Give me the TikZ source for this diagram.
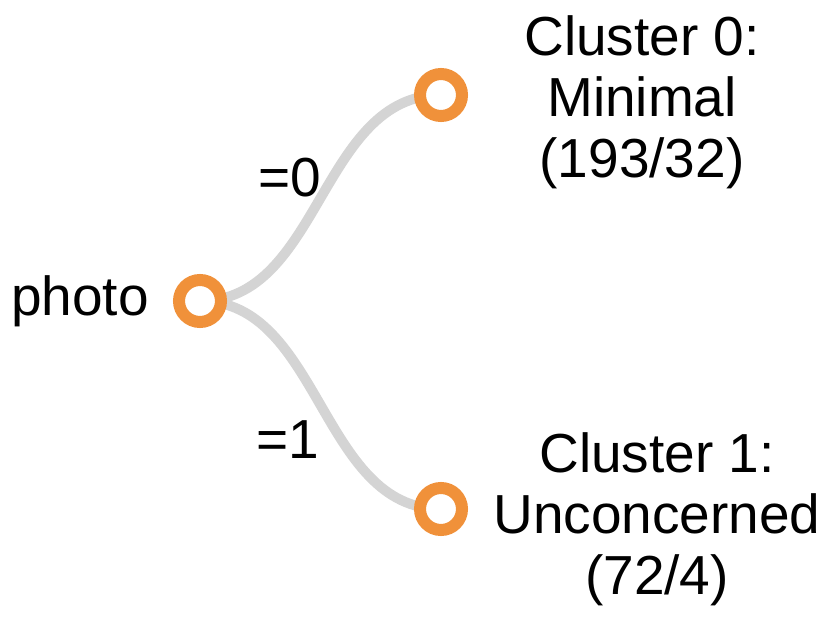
\documentclass[tikz,border=0pt]{standalone}
\usepackage{fontspec}
\setmainfont{Liberation Sans}
\usetikzlibrary{calc,positioning,backgrounds}
\definecolor{leaforange}{HTML}{F0913A}
\definecolor{branchgray}{HTML}{D4D4D4}
\tikzset{leaf/.style={circle, draw=leaforange, line width=12pt, fill=white, minimum size=42pt, inner sep=0pt},
  branch/.style={draw=branchgray, line width=10pt, line cap=round},
  lbl/.style={font=\fontsize{55}{61}\selectfont, align=center, inner sep=0pt}}

\begin{document}
\begin{tikzpicture}[x=1pt,y=-1pt]
    \useasboundingbox (0,0) rectangle (838,620);
    \node[leaf] (R) at (200,301) {};
    \node[leaf] (L0) at (441,95) {};
    \node[leaf] (L1) at (441,509) {};
    \coordinate (M) at ($(R)!0.5!(L0)$);
    \begin{pgfonlayer}{background}
    \draw[branch] (R.center) .. controls (R.center -| M) and (L0.center -| M) .. (L0.center);
    \draw[branch] (R.center) .. controls (R.center -| M) and (L1.center -| M) .. (L1.center);
    \end{pgfonlayer}
    \node[lbl, left=24pt of R] (root) {photo};
    \node[lbl] (e0) at (290,178) {=0};
    \node[lbl] (e1) at (288,440) {=1};
    \node[lbl] (c0) at (642,102) {Cluster 0:\\Minimal\\(193/32)};
    \node[lbl] (c1) at (657,519) {Cluster 1:\\Unconcerned\\(72/4)};
\end{tikzpicture}
\end{document}
